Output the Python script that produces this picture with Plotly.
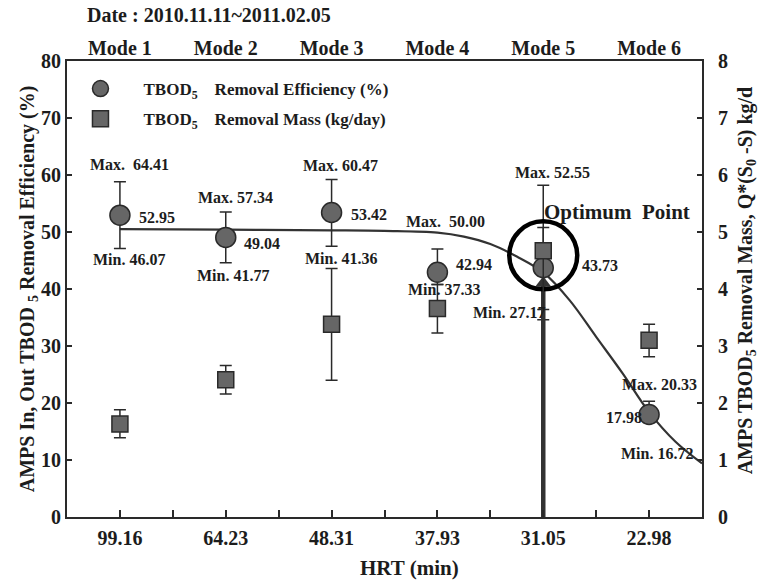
import plotly.graph_objects as go

# ---- data -------------------------------------------------------------
modes = ["Mode 1", "Mode 2", "Mode 3", "Mode 4", "Mode 5", "Mode 6"]
hrt_labels = ["99.16", "64.23", "48.31", "37.93", "31.05", "22.98"]

# TBOD5 removal efficiency (%)
eff_mean = [52.95, 49.04, 53.42, 42.94, 43.73, 17.98]
eff_max = [64.41, 57.34, 60.47, 50.00, 52.55, 20.33]
eff_min = [46.07, 41.77, 41.36, 37.33, 27.17, 16.72]
eff_bar_hi = [58.8, 53.5, 59.2, 47.0, 58.2, 20.3]
eff_bar_lo = [47.1, 44.6, 47.5, 40.8, 34.6, 16.7]

# TBOD5 removal mass (kg/day)
mass_mean = [1.63, 2.41, 3.38, 3.66, 4.67, 3.10]
mass_bar_hi = [1.88, 2.66, 4.36, 4.08, 5.08, 3.38]
mass_bar_lo = [1.39, 2.16, 2.40, 3.23, 3.64, 2.81]

# efficiency trend curve
trend_x = [1.0, 2.0, 3.0, 3.5, 4.0, 4.25, 4.5, 4.75, 5.0, 5.25, 5.5, 5.75, 6.0, 6.25, 6.5]
trend_y = [50.5, 50.4, 50.3, 50.2, 49.9, 49.2, 47.9, 45.7, 42.9, 38.0, 31.6, 25.2, 18.4, 13.2, 9.4]

# optimum point (Mode 5)
opt_pos = 5
opt_ring_y = 45.9
opt_arrow_y = 41.0

# ---- styling ----------------------------------------------------------
pos = list(range(1, len(modes) + 1))
FONT = "Liberation Serif, Times New Roman, serif"
INK = "#1c1c1c"
AX = "#2a2a2a"
FILL = "#666666"

# label offsets in pixels (dx, dy with dy downward) relative to each circle
max_off = [(10, -51), (10, -40), (9, -47), (8, -51), (9, -95), (10, -30)]
mean_off = [(37, 2), (36, 6), (37, 2), (37, -8), (57, -2), (-25, 3)]
min_off = [(9, 44), (7, 38), (9, 46), (7, 17), (-34, 45), (8, 39)]
max_fmt = ["Max.\u00a0 {:.2f}", "Max. {:.2f}", "Max. {:.2f}", "Max.\u00a0 {:.2f}", "Max. {:.2f}", "Max. {:.2f}"]

fig = go.Figure()

# trend curve
fig.add_trace(go.Scatter(
    x=trend_x, y=trend_y, mode="lines", line=dict(color="#333333", width=2.2, shape="spline", smoothing=1),
    showlegend=False, hoverinfo="skip"))

# removal mass squares (right axis)
fig.add_trace(go.Scatter(
    x=pos, y=mass_mean, yaxis="y2", mode="markers",
    name="TBOD<sub>5</sub>\u00a0\u00a0\u00a0 Removal Mass (kg/day)", legendrank=2, legendgroup="m",
    marker=dict(symbol="square", size=16, color=FILL, line=dict(color=AX, width=1.5)),
    error_y=dict(type="data", symmetric=False,
                 array=[h - m for h, m in zip(mass_bar_hi, mass_mean)],
                 arrayminus=[m - l for m, l in zip(mass_mean, mass_bar_lo)],
                 color=AX, thickness=1.5, width=6)))

# removal efficiency circles
fig.add_trace(go.Scatter(
    x=pos, y=eff_mean, mode="markers",
    name="TBOD<sub>5</sub>\u00a0\u00a0\u00a0 Removal Efficiency (%)", legendrank=1, legendgroup="e",
    marker=dict(symbol="circle", size=20, color=FILL, line=dict(color=AX, width=1.5)),
    error_y=dict(type="data", symmetric=False,
                 array=[h - m for h, m in zip(eff_bar_hi, eff_mean)],
                 arrayminus=[m - l for m, l in zip(eff_mean, eff_bar_lo)],
                 color=AX, thickness=1.5, width=6)))

# optimum marker: vertical pointer with arrow head and ring
fig.add_trace(go.Scatter(
    x=[opt_pos, opt_pos], y=[0, opt_arrow_y], mode="lines",
    line=dict(color="#333333", width=4.5), showlegend=False, hoverinfo="skip"))
fig.add_trace(go.Scatter(
    x=[opt_pos], y=[opt_arrow_y], mode="markers",
    marker=dict(symbol="triangle-up", size=14, color="#333333", line=dict(width=0)),
    showlegend=False, hoverinfo="skip"))
fig.add_trace(go.Scatter(
    x=[opt_pos], y=[opt_ring_y], mode="markers",
    marker=dict(symbol="circle-open", size=68, color="#000000", line=dict(color="#000000", width=4.5)),
    showlegend=False, hoverinfo="skip"))

# dummy trace to activate the top axis
fig.add_trace(go.Scatter(x=pos, y=eff_mean, xaxis="x2", mode="markers",
                         marker=dict(opacity=0), showlegend=False, hoverinfo="skip"))

annotations = []
lab_font = dict(family=FONT, size=16, color=INK, weight="bold")
for i, p in enumerate(pos):
    for txt, (dx, dy) in ((max_fmt[i].format(eff_max[i]), max_off[i]),
                          ("{:.2f}".format(eff_mean[i]), mean_off[i]),
                          ("Min. {:.2f}".format(eff_min[i]), min_off[i])):
        annotations.append(dict(x=p, y=eff_mean[i], xref="x", yref="y", text=txt, showarrow=False,
                                xanchor="center", yanchor="middle", xshift=dx, yshift=-dy, font=lab_font))

annotations.append(dict(x=opt_pos, y=opt_ring_y, xref="x", yref="y", text="Optimum\u00a0 Point",
                        showarrow=False, xanchor="center", yanchor="middle", xshift=74, yshift=43,
                        font=dict(family=FONT, size=21, color=INK, weight="bold")))

annotations.append(dict(x=0.028, y=1.1, xref="paper", yref="paper", text="Date : 2010.11.11~2011.02.05",
                        showarrow=False, xanchor="left", yanchor="middle",
                        font=dict(family=FONT, size=20, color=INK, weight="bold")))
annotations.append(dict(x=0.539, y=-0.112, xref="paper", yref="paper", text="HRT (min)",
                        showarrow=False, xanchor="center", yanchor="middle",
                        font=dict(family=FONT, size=21, color=INK, weight="bold")))
annotations.append(dict(x=-0.061, y=0.5, xref="paper", yref="paper",
                        text="AMPS In, Out TBOD <sub>5</sub> Removal Efficiency (%)", textangle=-90,
                        showarrow=False, xanchor="center", yanchor="middle",
                        font=dict(family=FONT, size=20, color=INK, weight="bold")))
annotations.append(dict(x=1.07, y=0.52, xref="paper", yref="paper",
                        text="AMPS TBOD<sub>5</sub> Removal Mass, Q*(S<sub>0</sub> -S) kg/d", textangle=-90,
                        showarrow=False, xanchor="center", yanchor="middle",
                        font=dict(family=FONT, size=20, color=INK, weight="bold")))

tick_font = dict(family=FONT, size=20, color=INK, weight="bold")

fig.update_layout(
    width=758, height=583,
    margin=dict(l=67, r=56, t=61, b=66),
    paper_bgcolor="white", plot_bgcolor="white",
    showlegend=True,
    legend=dict(x=-0.015, y=0.978, xanchor="left", yanchor="top", bgcolor="rgba(0,0,0,0)",
                itemwidth=76, tracegroupgap=5, traceorder="grouped",
                font=dict(family=FONT, size=17, color=INK, weight="bold")),
    xaxis=dict(range=[0.5, 6.5], tickmode="array", tickvals=pos, ticktext=hrt_labels,
               ticks="inside", ticklen=7, tickwidth=1.5, tickcolor=AX,
               minor=dict(tickvals=[p + 0.5 for p in pos[:-1]], ticks="inside", ticklen=7,
                          tickwidth=1.5, tickcolor=AX),
               showline=True, linecolor=AX, linewidth=1.8, showgrid=False, zeroline=False,
               tickfont=tick_font, ticklabelstandoff=2),
    xaxis2=dict(range=[0.5, 6.5], overlaying="x", side="top", tickmode="array", tickvals=pos,
                ticktext=modes, ticks="", showline=True, linecolor=AX, linewidth=1.8,
                showgrid=False, zeroline=False, tickfont=tick_font, ticklabelstandoff=-4),
    yaxis=dict(range=[0, 80], tickvals=list(range(0, 81, 10)), ticks="inside", ticklen=5,
               tickwidth=1.5, tickcolor=AX, showline=True, linecolor=AX, linewidth=1.8,
               showgrid=False, zeroline=False, tickfont=tick_font),
    yaxis2=dict(range=[0, 8], tickvals=list(range(0, 9)), overlaying="y", side="right",
                ticks="inside", ticklen=5, tickwidth=1.5, tickcolor=AX, showline=True,
                linecolor=AX, linewidth=1.8, showgrid=False, zeroline=False, tickfont=tick_font,
                ticklabelstandoff=10),
    annotations=annotations,
)

fig.write_html("out.html")
